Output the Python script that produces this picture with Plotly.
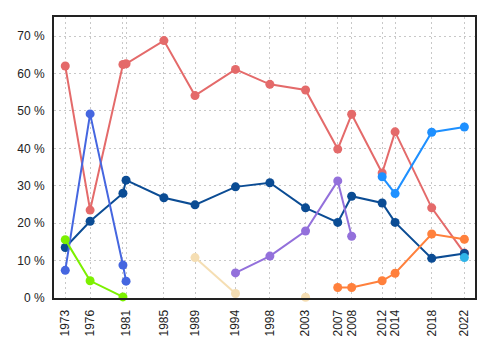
import plotly.graph_objects as go

dates = ["1973-10-29", "1976-11-15", "1980-11-24", "1981-04-13", "1985-12-02",
         "1989-09-25", "1994-09-12", "1998-11-30", "2003-04-14", "2007-03-26",
         "2008-12-08", "2012-09-04", "2014-04-07", "2018-10-01", "2022-10-03"]
tick_labels = ["1973", "1976", "", "1981", "1985", "1989", "1994", "1998", "2003",
               "2007", "2008", "2012", "2014", "2018", "2022"]

N = None
red = [62.0, 23.5, 62.4, 62.6, 68.8, 54.1, 61.1, 57.1, 55.6, 39.8, 49.1, 33.4, 44.4, 24.1, 12.0]
darkblue = [13.5, 20.5, 28.0, 31.5, 26.8, 24.9, 29.7, 30.8, 24.1, 20.2, 27.2, 25.4, 20.2, 10.6, 11.9]
royalblue = [7.4, 49.2, 8.8, 4.5, N, N, N, N, N, N, N, N, N, N, N]
green = [15.6, 4.6, 0.3, N, N, N, N, N, N, N, N, N, N, N, N]
wheat = [N, N, N, N, N, 10.8, 1.2, N, 0.2, N, N, N, N, N, N]
purple = [N, N, N, N, N, N, 6.7, 11.2, 17.9, 31.3, 16.5, N, N, N, N]
orange = [N, N, N, N, N, N, N, N, N, 2.8, 2.8, 4.6, 6.6, 17.1, 15.7]
dodger = [N, N, N, N, N, N, N, N, N, N, N, 32.4, 27.9, 44.3, 45.7]
lightblue = [N, N, N, N, N, N, N, N, N, N, N, N, N, N, 10.8]

series = [
    (red, "#e46a6a"),
    (darkblue, "#0b4c94"),
    (royalblue, "#4566e0"),
    (green, "#7cf000"),
    (wheat, "#f5deb3"),
    (purple, "#9370db"),
    (orange, "#ff803c"),
    (dodger, "#1e90ff"),
    (lightblue, "#2fb4e8"),
]

fig = go.Figure()
for vals, col in series:
    fig.add_trace(go.Scatter(
        x=dates, y=vals, mode="lines+markers",
        line=dict(color=col, width=2),
        marker=dict(color=col, size=9),
        connectgaps=False, cliponaxis=False, showlegend=False,
        hoverinfo="skip",
    ))

fig.update_layout(
    width=500, height=350,
    margin=dict(l=54, r=25, t=17, b=52),
    paper_bgcolor="white", plot_bgcolor="white",
    font=dict(family="Liberation Sans, Arial, sans-serif", size=12, color="#222"),
)
fig.update_xaxes(
    type="date", range=["1972-06-12", "2024-01-22"],
    tickmode="array", tickvals=dates, ticktext=tick_labels,
    tickangle=-90, ticks="outside", ticklen=5, tickcolor="rgba(0,0,0,0)",
    showgrid=True, gridcolor="#c8c8c8", gridwidth=1, griddash="2px,3px",
    showline=True, linecolor="#222", linewidth=2, mirror=True,
    zeroline=False,
)
fig.update_yaxes(
    range=[0, 75.1], tickmode="array",
    tickvals=[0, 10, 20, 30, 40, 50, 60, 70],
    ticktext=["0 %", "10 %", "20 %", "30 %", "40 %", "50 %", "60 %", "70 %"],
    showgrid=True, gridcolor="#c8c8c8", gridwidth=1, griddash="2px,3px",
    showline=True, linecolor="#222", linewidth=2, mirror=True,
    zeroline=False, ticks="outside", ticklen=5, tickcolor="rgba(0,0,0,0)",
)

fig.write_html("out.html")
